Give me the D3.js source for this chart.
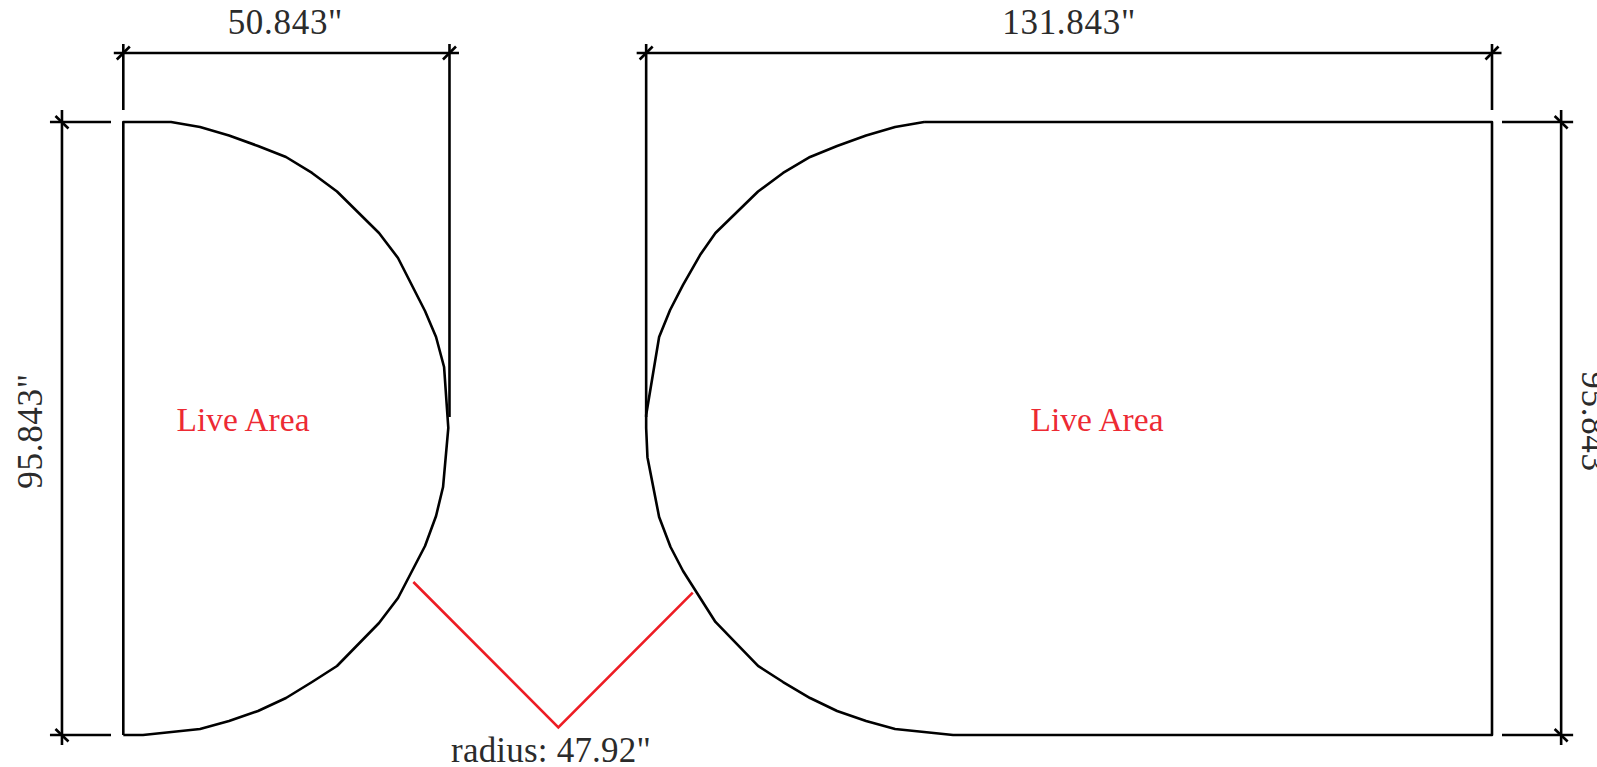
<!DOCTYPE html>
<html>
<head>
<meta charset="utf-8">
<script src="https://cdnjs.cloudflare.com/ajax/libs/d3/7.8.5/d3.min.js"></script>
<style>
	body { margin: 0; background: #fff; overflow: hidden; }
	text { font-family: "Liberation Serif", serif; }
</style>
</head>
<body>
<div id="drawing"></div>
<script>
// all values are inches, measured from the top left corner of the left panel
var left_width   = 50.843;
var right_width  = 131.843;
var panel_height = 95.843;
var right_start  = 81.5;
var radius_text  = 'radius: 47.92"';
var live_text    = 'Live Area';

// left panel curve, top to bottom
var left_curve_x = [7.44, 11.96, 16.48, 21.0, 25.36, 29.42, 33.31, 39.86, 42.82, 47.03, 48.75, 50.0, 50.66, 49.84, 48.75, 47.03, 42.82, 39.86, 33.31, 29.42, 25.36, 21.0, 16.48, 11.96, 3.07];
var left_curve_y = [0, 0.78, 2.11, 3.75, 5.47, 7.97, 10.87, 17.35, 21.26, 29.55, 33.61, 38.3, 47.84, 57.07, 61.6, 66.29, 74.42, 78.33, 85.05, 87.56, 90.06, 92.09, 93.65, 94.9, 95.843];

// right panel curve, top to bottom, x from the panel's left edge
var right_curve_x = [43.32, 38.8, 34.28, 29.76, 25.55, 21.34, 17.44, 10.8, 8.4, 5.75, 3.73, 2.02, 0, 0, 0.2, 2.02, 3.8, 5.75, 10.8, 17.44, 21.34, 25.55, 29.76, 34.28, 38.8, 47.84];
var right_curve_y = [0, 0.78, 2.11, 3.75, 5.47, 7.97, 10.87, 17.35, 20.8, 25.48, 29.39, 33.61, 45.8, 47.84, 52.4, 61.76, 66.45, 70.2, 78.17, 85.05, 87.56, 90.06, 92.09, 93.65, 94.9, 95.843];

// red radius marker
var radius_x = [45.21, 67.81, 88.76];
var radius_y = [71.92, 94.64, 73.59];

// dimension lines
var top_dim_y     = -10.79;
var left_dim_x    = -9.56;
var right_dim_x   = 224.12;
var notch_y       = 46.12;

var svg_width  = 1597;
var svg_height = 767;

var x = d3.scaleLinear().domain([0, right_start + right_width]).range([123.3, 1492]);
var y = d3.scaleLinear().domain([0, panel_height]).range([122, 735]);

var svg = d3.select('#drawing')
	.append('svg')
	.attr('width', svg_width)
	.attr('height', svg_height);

var line = d3.line()
	.x(function(d) { return x(d[0]); })
	.y(function(d) { return y(d[1]); });

// outlines
var left_outline = [[0, panel_height], [0, 0]].concat(left_curve_x.map(function(v, i) {
	return [v, left_curve_y[i]];
}));
left_outline.push([0, panel_height]);

var right_outline = right_curve_x.map(function(v, i) {
	return [right_start + v, right_curve_y[i]];
});
right_outline = right_outline.concat([[right_start + right_width, panel_height], [right_start + right_width, 0], [right_start + right_curve_x[0], 0]]);

svg.selectAll('path.outline')
	.data([left_outline, right_outline])
	.enter()
	.append('path')
	.attr('class', 'outline')
	.attr('d', line)
	.attr('fill', 'none')
	.attr('stroke', '#000')
	.attr('stroke-width', 2.6)
	.attr('stroke-linejoin', 'round');

// radius marker
svg.append('path')
	.attr('d', line(radius_x.map(function(v, i) { return [v, radius_y[i]]; })))
	.attr('fill', 'none')
	.attr('stroke', '#ed1c24')
	.attr('stroke-width', 2.6);

// dimension and extension lines, px offsets are the overshoot of each line
function seg(x1, y1, x2, y2) {
	svg.append('line')
		.attr('x1', x1).attr('y1', y1)
		.attr('x2', x2).attr('y2', y2)
		.attr('stroke', '#000')
		.attr('stroke-width', 2.6);
}

var top_y = y(top_dim_y);

[[0, left_width], [right_start, right_start + right_width]].forEach(function(d) {
	seg(x(d[0]) - 9.5, top_y, x(d[1]) + 9.5, top_y);
	d.forEach(function(v) {
		seg(x(v) - 6.5, top_y + 6.5, x(v) + 6.5, top_y - 6.5);
	});
});

seg(x(0), top_y - 9, x(0), 110);
seg(x(right_start + right_width), top_y - 9, x(right_start + right_width), 110);
seg(x(left_width), top_y - 9, x(left_width), y(notch_y));
seg(x(right_start), top_y - 9, x(right_start), y(notch_y));

[left_dim_x, right_dim_x].forEach(function(v) {
	seg(x(v), 110, x(v), 745);
	[0, panel_height].forEach(function(h) {
		seg(x(v) - 6.5, y(h) - 6, x(v) + 6.5, y(h) + 6.5);
	});
});

[0, panel_height].forEach(function(h) {
	seg(x(left_dim_x) - 12, y(h), 111, y(h));
	seg(1502, y(h), x(right_dim_x) + 12, y(h));
});

// labels
function label(str, px, py, size, color, rot, spacing) {
	svg.append('text')
		.attr('transform', 'translate(' + px + ',' + py + ') rotate(' + (rot || 0) + ')')
		.attr('text-anchor', 'middle')
		.attr('font-size', size)
		.attr('letter-spacing', spacing || 0)
		.attr('fill', color)
		.text(str);
}

var black_text = '#2b2b2b';
label(left_width + '"', x(left_width / 2) - 1, 34, 35, black_text, 0, 0.7);
label(right_width + '"', x(right_start + right_width / 2), 34, 35, black_text, 0, 0.7);
label(panel_height + '"', 42, 431, 35, black_text, -90, 0.7);
label(panel_height + '"', 1582, 429, 35, black_text, 90, 0.7);
label(radius_text, 551, 762, 35, black_text, 0, 0.2);
label(live_text, 243, 431, 33.5, '#ed2a33');
label(live_text, 1097, 431, 33.5, '#ed2a33');
</script>
</body>
</html>
